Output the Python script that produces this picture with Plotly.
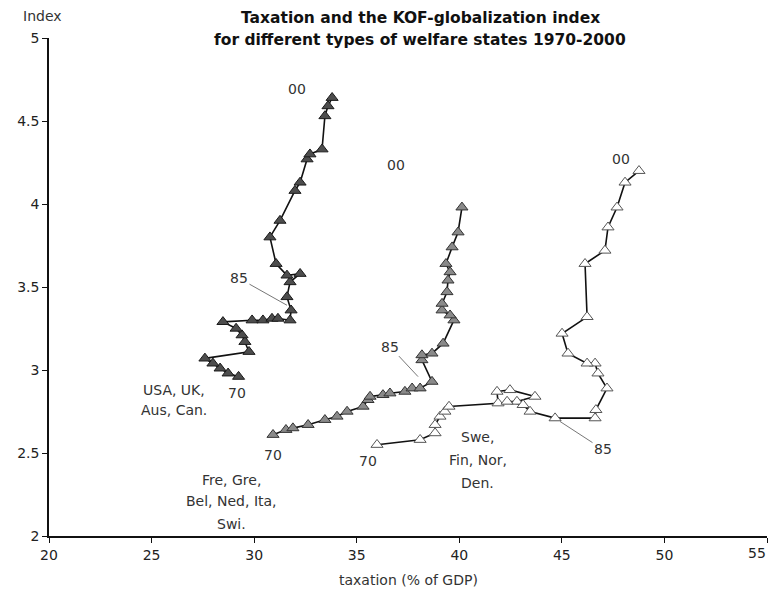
import plotly.graph_objects as go

years = list(range(1970, 2001))

# USA, UK, Aus, Can.
anglo_tax = [29.24, 28.73, 28.34, 27.99, 27.60, 29.75, 29.55, 29.41, 29.12, 28.48,
             29.90, 30.43, 30.87, 31.16, 31.75, 31.80, 31.60, 31.75, 32.24, 31.60,
             31.07, 30.77, 31.26, 31.99, 32.24, 32.58, 32.72, 33.31, 33.45, 33.60, 33.80]
anglo_kof = [2.96, 2.98, 3.01, 3.04, 3.07, 3.11, 3.17, 3.21, 3.25, 3.29,
             3.30, 3.30, 3.31, 3.31, 3.30, 3.36, 3.44, 3.53, 3.58, 3.57,
             3.64, 3.80, 3.90, 4.08, 4.13, 4.27, 4.30, 4.33, 4.53, 4.59, 4.64]

# Fre, Gre, Bel, Ned, Ita, Swi.
cont_tax = [30.92, 31.55, 31.89, 32.63, 33.45, 34.04, 34.53, 35.31, 35.55, 35.65,
            36.28, 36.62, 37.35, 37.70, 38.09, 38.67, 38.18, 38.18, 38.67, 39.21,
            39.74, 39.55, 39.16, 39.16, 39.40, 39.45, 39.55, 39.35, 39.65, 39.94, 40.13]
cont_kof = [2.61, 2.64, 2.65, 2.67, 2.70, 2.72, 2.75, 2.78, 2.82, 2.84,
            2.85, 2.86, 2.87, 2.89, 2.89, 2.93, 3.06, 3.09, 3.10, 3.16,
            3.30, 3.33, 3.36, 3.40, 3.47, 3.54, 3.59, 3.64, 3.74, 3.83, 3.98]

# Swe, Fin, Nor, Den.
nord_tax = [35.99, 38.09, 38.82, 38.82, 39.06, 39.30, 39.50, 41.89, 41.84, 42.47,
            43.69, 42.81, 42.33, 43.11, 43.45, 44.67, 46.62, 46.66, 47.20, 46.76,
            46.62, 46.23, 45.30, 45.01, 46.23, 46.13, 47.10, 47.25, 47.69, 48.08, 48.76]
nord_kof = [2.55, 2.58, 2.62, 2.67, 2.72, 2.75, 2.78, 2.80, 2.87, 2.88,
            2.84, 2.81, 2.81, 2.79, 2.75, 2.71, 2.71, 2.76, 2.89, 2.98,
            3.04, 3.04, 3.10, 3.22, 3.32, 3.64, 3.72, 3.86, 3.98, 4.13, 4.20]

x_ticks = [20, 25, 30, 35, 40, 45, 50, 55]
x_tick_labels = ["20", "25", "30", "35", "40", "45", "50", ""]  # "55" drawn below so it is not clipped
y_ticks = [2, 2.5, 3, 3.5, 4, 4.5, 5]

series = [
    ("USA, UK, Aus, Can.", anglo_tax, anglo_kof, "#4d4d4d", "#1a1a1a"),
    ("Fre, Gre, Bel, Ned, Ita, Swi.", cont_tax, cont_kof, "#8a8a8a", "#333333"),
    ("Swe, Fin, Nor, Den.", nord_tax, nord_kof, "#ffffff", "#555555"),
]

fig = go.Figure()
for name, xs, ys, fill, edge in series:
    fig.add_trace(go.Scatter(
        x=xs, y=ys, mode="lines+markers", name=name, text=years,
        line=dict(color="#111111", width=1.6),
        marker=dict(symbol="triangle-up", size=10.5, color=fill,
                    line=dict(color=edge, width=1)),
        showlegend=False,
    ))

txt = dict(family="DejaVu Sans, Verdana, sans-serif", size=14, color="#333333")
tick_font = dict(family="DejaVu Sans, Verdana, sans-serif", size=14, color="#222222")
ann = []

def label(x, y, s):
    ann.append(dict(x=x, y=y, xref="x", yref="y", text=s, showarrow=False,
                    xanchor="center", yanchor="middle", font=txt))

def pointer(x, y, s, ax, ay):
    ann.append(dict(x=x, y=y, xref="x", yref="y", text=s, showarrow=True,
                    arrowhead=0, arrowwidth=1, arrowcolor="#777777",
                    ax=ax, ay=ay, font=txt))

# Anglo
label(32.09, 4.69, "00")
label(29.16, 2.86, "70")
pointer(31.60, 3.39, "85", -48, -27)
label(26.09, 2.88, "USA, UK,")
label(26.09, 2.76, "Aus, Can.")
# Continental
label(36.92, 4.235, "00")
label(30.92, 2.49, "70")
pointer(37.99, 2.96, "85", -28, -30)
label(28.92, 2.34, "Fre, Gre,")
label(28.92, 2.21, "Bel, Ned, Ita,")
label(28.92, 2.07, "Swi.")
# Nordic
label(47.88, 4.27, "00")
label(35.55, 2.45, "70")
pointer(44.91, 2.69, "85", 43, 28)
label(40.91, 2.595, "Swe,")
label(40.91, 2.46, "Fin, Nor,")
label(40.91, 2.32, "Den.")

title_font = dict(family="DejaVu Sans, Verdana, sans-serif", size=15.5, color="#111111")
ann.append(dict(x=0.517, y=1.040, xref="paper", yref="paper", xanchor="center", yanchor="middle",
                text="<b>Taxation and the KOF-globalization index</b>",
                showarrow=False, font=title_font))
ann.append(dict(x=0.517, y=0.996, xref="paper", yref="paper", xanchor="center", yanchor="middle",
                text="<b>for different types of welfare states 1970-2000</b>",
                showarrow=False, font=title_font))
ann.append(dict(x=-0.0097, y=1.044, xref="paper", yref="paper", xanchor="center", yanchor="middle",
                text="Index", showarrow=False, font=txt))
ann.append(dict(x=0.50, y=-0.0884, xref="paper", yref="paper", xanchor="center", yanchor="middle",
                text="taxation (% of GDP)", showarrow=False, font=txt))
ann.append(dict(x=1.0, y=-0.034, xref="paper", yref="paper", xanchor="right", yanchor="middle",
                xshift=1, text="55", showarrow=False, font=tick_font))

# the page body adds an 8 px offset, so the figure is made smaller with margins shifted
fig.update_layout(
    width=768, height=583,
    margin=dict(l=41, r=9, t=30, b=55, autoexpand=False),
    paper_bgcolor="white", plot_bgcolor="white",
    annotations=ann,
    xaxis=dict(range=[20, 55], tickvals=x_ticks, ticktext=x_tick_labels,
               showgrid=False, zeroline=False,
               showline=True, linecolor="#111111", linewidth=1.5,
               ticks="outside", ticklen=5, tickcolor="#111111", automargin=False,
               tickfont=tick_font),
    yaxis=dict(range=[2, 5], tickvals=y_ticks, showgrid=False, zeroline=False,
               showline=True, linecolor="#111111", linewidth=1.5, automargin=False,
               ticksuffix="\u00a0\u00a0",
               ticks="outside", ticklen=5, tickcolor="#111111", tickfont=tick_font),
)

fig.write_html("out.html")
